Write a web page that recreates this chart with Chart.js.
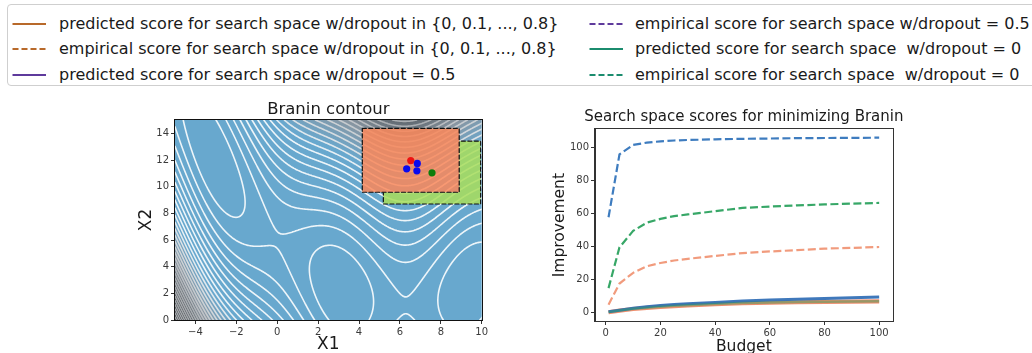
<!DOCTYPE html>
<html>
<head>
<meta charset="utf-8">
<script src="https://cdn.jsdelivr.net/npm/chart.js@4.4.1/dist/chart.umd.min.js"></script>
<style>
  html, body { margin: 0; padding: 0; background: #ffffff; width: 1032px; height: 353px; overflow: hidden;
               font-family: "DejaVu Sans", sans-serif; }
  #legend { position: absolute; left: 7px; top: 4px; width: 1070px; height: 82px;
            border: 1px solid #cfcfcf; border-radius: 4px; box-sizing: border-box; }
  .item { position: absolute; height: 20px; font-size: 16px; line-height: 20px; color: #1a1a1a; white-space: pre; }
  .item svg { position: absolute; left: 0; top: 0; }
  .item span { position: absolute; top: 0; }
  #contourBox { position: absolute; left: 130px; top: 95px; width: 370px; height: 270px; }
  #scoreBox { position: absolute; left: 530px; top: 95px; width: 400px; height: 270px; }
</style>
</head>
<body>
<div id="legend"></div>
<div id="contourBox"><canvas id="contour" width="370" height="270"></canvas></div>
<div id="scoreBox"><canvas id="scores" width="400" height="270"></canvas></div>
<script>
// ---------- legend entries ----------
const legendLabels = [
  'predicted score for search space w/dropout in {0, 0.1, ..., 0.8}',
  'empirical score for search space w/dropout in {0, 0.1, ..., 0.8}',
  'predicted score for search space w/dropout = 0.5',
  'empirical score for search space w/dropout = 0.5',
  'predicted score for search space  w/dropout = 0',
  'empirical score for search space  w/dropout = 0'
];
const legendColors = ['#b8692a', '#b8692a', '#5e3a9c', '#5e3a9c', '#1b8c6e', '#1b8c6e'];
const legendDashed = [false, true, false, true, false, true];

// ---------- contour panel ----------
const x1Ticks = [-4, -2, 0, 2, 4, 6, 8, 10];
const x2Ticks = [0, 2, 4, 6, 8, 10, 12, 14];
const contourLevels = [10, 20, 30, 40, 50, 60, 70, 80, 90, 100, 110, 120, 130, 140, 150,
                       160, 170, 180, 190, 200, 210, 220, 230, 240, 250, 260, 270, 280, 290, 300];
// search-space boxes: [x1 from, x1 to], [x2 from, x2 to]
const wideBoxX1 = [4.16, 8.90];
const wideBoxX2 = [9.58, 14.37];
const narrowBoxX1 = [5.19, 9.95];
const narrowBoxX2 = [8.70, 13.42];
// proposed optima
const redPoint = [{x: 6.53, y: 11.96}];
const bluePoints = [{x: 6.85, y: 11.74}, {x: 6.33, y: 11.34}, {x: 6.83, y: 11.19}];
const greenPoint = [{x: 7.57, y: 11.04}];

// ---------- score panel ----------
const budgets = [1, 5, 10, 15, 20, 25, 30, 40, 50, 60, 70, 80, 90, 100];
const empiricalBlue   = [57.8, 96.0, 101.8, 103.2, 104.0, 104.5, 104.8, 105.2, 105.5, 105.7, 105.9, 106.0, 106.1, 106.2];
const empiricalGreen  = [14.7, 39.5, 49.5, 54.5, 56.8, 58.5, 59.5, 61.5, 63.5, 64.3, 65.0, 65.6, 66.1, 66.5];
const empiricalSalmon = [4.6, 17.5, 24.0, 28.0, 30.0, 31.5, 32.5, 34.3, 36.0, 37.0, 37.8, 38.7, 39.2, 39.7];
const predictedGreen  = [0.1, 1.1, 2.2, 2.8, 3.4, 3.9, 4.3, 5.0, 5.6, 5.9, 6.2, 6.4, 6.6, 6.7];
const predictedBlue   = [0.3, 1.3, 2.5, 3.4, 4.2, 4.7, 5.2, 6.0, 6.8, 7.4, 7.9, 8.4, 8.8, 9.3];
const predictedSalmon = [0.0, 1.0, 2.0, 2.7, 3.3, 3.8, 4.2, 4.9, 5.5, 5.8, 6.1, 6.3, 6.5, 6.6];
const budgetTicks = [0, 20, 40, 60, 80, 100];
const improvementTicks = [0, 20, 40, 60, 80, 100];

// ---------- legend ----------
(function buildLegend() {
  const box = document.getElementById('legend');
  const rowY = [9, 34, 60];
  legendLabels.forEach((label, i) => {
    const col = Math.floor(i / 3), row = i % 3;
    const left = col === 0 ? 4 : 581;
    const el = document.createElement('div');
    el.className = 'item';
    el.style.left = left + 'px';
    el.style.top = rowY[row] + 'px';
    el.style.width = '520px';
    const dash = legendDashed[i] ? ' stroke-dasharray="6 3"' : '';
    el.innerHTML = '<svg width="36" height="20"><line x1="0.5" y1="10" x2="34" y2="10" stroke="' +
      legendColors[i] + '" stroke-width="2"' + dash + '/></svg>';
    const span = document.createElement('span');
    span.style.left = (col === 0 ? 47 : 46) + 'px';
    span.textContent = label;
    el.appendChild(span);
    box.appendChild(el);
  });
})();

// ---------- helpers ----------
const FONT = '"DejaVu Sans", sans-serif';
const minus = v => (v < 0 ? '\u2212' + Math.abs(v) : String(v));

function branin(x1, x2) {
  const b = 5.1 / (4 * Math.PI * Math.PI), c = 5 / Math.PI, t = 1 / (8 * Math.PI);
  const u = x2 - b * x1 * x1 + c * x1 - 6;
  return u * u + 10 * (1 - t) * Math.cos(x1) + 10;
}

const fillStops = [
  [0, [104, 168, 206]], [105, [104, 168, 206]], [165, [136, 150, 162]],
  [230, [80, 86, 92]], [300, [14, 16, 20]]
];
function fillColor(v) {
  if (v <= fillStops[0][0]) return fillStops[0][1];
  for (let k = 1; k < fillStops.length; k++) {
    if (v <= fillStops[k][0]) {
      const [a0, c0] = fillStops[k - 1], [a1, c1] = fillStops[k];
      const f = (v - a0) / (a1 - a0);
      return [c0[0] + (c1[0] - c0[0]) * f, c0[1] + (c1[1] - c0[1]) * f, c0[2] + (c1[2] - c0[2]) * f];
    }
  }
  return fillStops[fillStops.length - 1][1];
}
function lineColor(level) {
  const f = Math.max(0, Math.min(1, (level - 90) / 110));
  const r = Math.round(255 - 75 * f), g = Math.round(255 - 72 * f), b = Math.round(255 - 68 * f);
  return 'rgba(' + r + ',' + g + ',' + b + ',0.88)';
}

// Branin surface, contour lines and search-space boxes, drawn through the chart scales
const braninSurface = {
  id: 'braninSurface',
  beforeDatasetsDraw(chart) {
    const {ctx, chartArea: a, scales: {x, y}} = chart;
    const L = Math.round(a.left), T = Math.round(a.top);
    const W = Math.round(a.right) - L, H = Math.round(a.bottom) - T;

    // filled surface
    const off = document.createElement('canvas');
    off.width = W; off.height = H;
    const octx = off.getContext('2d');
    const img = octx.createImageData(W, H);
    for (let j = 0; j < H; j++) {
      const v2 = y.getValueForPixel(T + j + 0.5);
      for (let i = 0; i < W; i++) {
        const c = fillColor(branin(x.getValueForPixel(L + i + 0.5), v2));
        const p = (j * W + i) * 4;
        img.data[p] = c[0]; img.data[p + 1] = c[1]; img.data[p + 2] = c[2]; img.data[p + 3] = 255;
      }
    }
    octx.putImageData(img, 0, 0);
    ctx.save();
    ctx.beginPath();
    ctx.rect(a.left, a.top, a.right - a.left, a.bottom - a.top);
    ctx.clip();
    ctx.drawImage(off, L, T);

    // contour lines (marching squares on a one-pixel grid)
    const nx = W + 1, ny = H + 1;
    const grid = new Float64Array(nx * ny);
    for (let j = 0; j < ny; j++) {
      const v2 = y.getValueForPixel(T + j);
      for (let i = 0; i < nx; i++) grid[j * nx + i] = branin(x.getValueForPixel(L + i), v2);
    }
    ctx.lineWidth = 1.6;
    ctx.lineCap = 'round';
    contourLevels.forEach(level => {
      ctx.beginPath();
      for (let j = 0; j < H; j++) {
        for (let i = 0; i < W; i++) {
          const v0 = grid[j * nx + i], v1 = grid[j * nx + i + 1];
          const v2 = grid[(j + 1) * nx + i + 1], v3 = grid[(j + 1) * nx + i];
          const above = (v0 > level) + (v1 > level) + (v2 > level) + (v3 > level);
          if (above === 0 || above === 4) continue;
          const pts = [];
          if ((v0 > level) !== (v1 > level)) pts.push([i + (level - v0) / (v1 - v0), j]);
          if ((v1 > level) !== (v2 > level)) pts.push([i + 1, j + (level - v1) / (v2 - v1)]);
          if ((v2 > level) !== (v3 > level)) pts.push([i + 1 - (level - v2) / (v3 - v2), j + 1]);
          if ((v3 > level) !== (v0 > level)) pts.push([i, j + 1 - (level - v3) / (v0 - v3)]);
          if (pts.length === 2) {
            ctx.moveTo(L + pts[0][0], T + pts[0][1]); ctx.lineTo(L + pts[1][0], T + pts[1][1]);
          } else if (pts.length === 4) {
            const centre = (v0 + v1 + v2 + v3) / 4;
            if ((centre > level) === (v0 > level)) {
              ctx.moveTo(L + pts[0][0], T + pts[0][1]); ctx.lineTo(L + pts[1][0], T + pts[1][1]);
              ctx.moveTo(L + pts[2][0], T + pts[2][1]); ctx.lineTo(L + pts[3][0], T + pts[3][1]);
            } else {
              ctx.moveTo(L + pts[0][0], T + pts[0][1]); ctx.lineTo(L + pts[3][0], T + pts[3][1]);
              ctx.moveTo(L + pts[1][0], T + pts[1][1]); ctx.lineTo(L + pts[2][0], T + pts[2][1]);
            }
          }
        }
      }
      ctx.strokeStyle = lineColor(level);
      ctx.stroke();
    });

    // search-space boxes: the wide box sits on top of the narrow one
    const rectOf = (bx, by) => {
      const px0 = x.getPixelForValue(bx[0]), px1 = x.getPixelForValue(bx[1]);
      const py0 = y.getPixelForValue(by[1]), py1 = y.getPixelForValue(by[0]);
      return [px0, py0, px1 - px0, py1 - py0];
    };
    const wide = rectOf(wideBoxX1, wideBoxX2);
    const narrow = rectOf(narrowBoxX1, narrowBoxX2);
    const drawBox = (r, fill) => {
      ctx.fillStyle = fill;
      ctx.fillRect(r[0], r[1], r[2], r[3]);
      ctx.setLineDash([4, 2.5]);
      ctx.lineWidth = 1.2;
      ctx.strokeStyle = '#111111';
      ctx.strokeRect(r[0], r[1], r[2], r[3]);
      ctx.setLineDash([]);
    };
    ctx.save();
    ctx.beginPath();
    ctx.rect(a.left - 2, a.top - 2, a.right - a.left + 4, a.bottom - a.top + 4);
    ctx.rect(wide[0], wide[1], wide[2], wide[3]);
    ctx.clip('evenodd');
    drawBox(narrow, 'rgba(168,221,92,0.86)');
    ctx.restore();
    drawBox(wide, 'rgba(252,135,88,0.84)');
    ctx.restore();
  }
};

// plot frame and centred panel title
const frameAndTitle = {
  id: 'frameAndTitle',
  afterDraw(chart, args, opts) {
    const {ctx, chartArea: a} = chart;
    ctx.save();
    ctx.strokeStyle = opts.frameColor;
    ctx.lineWidth = 1;
    ctx.strokeRect(Math.round(a.left) - 0.5, Math.round(a.top) - 0.5,
                   Math.round(a.right - a.left) + 1, Math.round(a.bottom - a.top) + 1);
    ctx.fillStyle = '#1a1a1a';
    ctx.font = opts.size + 'px ' + FONT;
    ctx.textAlign = 'center';
    ctx.textBaseline = 'middle';
    ctx.fillText(opts.text, (a.left + a.right) / 2, opts.y);
    ctx.restore();
  }
};

const fixedTicks = values => scale => { scale.ticks = values.map(v => ({value: v})); };
const axisBase = (tickValues, title, titleSize, titlePad, size) => ({
  type: 'linear',
  afterBuildTicks: fixedTicks(tickValues),
  grid: {drawOnChartArea: false, drawTicks: true, tickLength: 4, color: '#333333'},
  border: {display: true, color: '#333333'},
  ticks: {font: {family: FONT, size: 10}, color: '#3a3a3a', padding: 2, maxRotation: 0,
          autoSkip: false, callback: v => minus(v)},
  title: {display: true, text: title, font: {family: FONT, size: titleSize}, color: '#1a1a1a', padding: titlePad},
  afterFit: s => { if (s.isHorizontal()) s.height = size; else s.width = size; }
});

Chart.defaults.font.family = FONT;

new Chart(document.getElementById('contour'), {
  type: 'scatter',
  data: {
    datasets: [
      {data: redPoint, backgroundColor: '#ee1111', pointRadius: 3.6, borderWidth: 0, pointHoverRadius: 3.6},
      {data: bluePoints, backgroundColor: '#0a0aee', pointRadius: 3.6, borderWidth: 0, pointHoverRadius: 3.6},
      {data: greenPoint, backgroundColor: '#0b7d0b', pointRadius: 3.6, borderWidth: 0, pointHoverRadius: 3.6}
    ]
  },
  options: {
    responsive: false, animation: false, devicePixelRatio: 1,
    layout: {padding: {top: 25, right: 18.3, left: 0, bottom: 0}},
    plugins: {legend: {display: false}, tooltip: {enabled: false},
              frameAndTitle: {text: 'Branin contour', y: 14.5, size: 16.5, frameColor: '#111111'}},
    scales: {
      x: Object.assign(axisBase(x1Ticks, 'X1', 17, {top: 0, bottom: 10.5}, 45), {min: -5, max: 10}),
      y: Object.assign(axisBase(x2Ticks, 'X2', 17, {top: 6, bottom: 0}, 45), {min: 0, max: 15})
    }
  },
  plugins: [braninSurface, frameAndTitle]
});

const lineSet = (values, color, dashed, width) => ({
  data: budgets.map((b, i) => ({x: b, y: values[i]})),
  borderColor: color, borderWidth: width, borderDash: dashed ? [8, 3.5] : [],
  pointRadius: 0, fill: false, tension: 0, borderCapStyle: 'butt'
});

new Chart(document.getElementById('scores'), {
  type: 'line',
  data: {
    datasets: [
      lineSet(predictedGreen, 'rgba(44,162,95,0.45)', false, 2.5),
      lineSet(predictedBlue, 'rgba(47,109,181,0.92)', false, 3),
      lineSet(predictedSalmon, 'rgba(238,136,102,0.95)', false, 4.2),
      lineSet(empiricalSalmon, 'rgba(240,150,118,0.95)', true, 2.2),
      lineSet(empiricalGreen, 'rgba(44,162,95,0.95)', true, 2.2),
      lineSet(empiricalBlue, 'rgba(52,117,188,0.95)', true, 2.2)
    ]
  },
  options: {
    responsive: false, animation: false, devicePixelRatio: 1,
    layout: {padding: {top: 34.3, right: 37.3, left: 0, bottom: 0}},
    plugins: {legend: {display: false}, tooltip: {enabled: false},
              frameAndTitle: {text: 'Search space scores for minimizing Branin', y: 22.5, size: 15, frameColor: '#333333'}},
    scales: {
      x: Object.assign(axisBase(budgetTicks, 'Budget', 15.5, {top: 0, bottom: 8.5}, 44), {min: -3.95, max: 104.95}),
      y: Object.assign(axisBase(improvementTicks, 'Improvement', 15.5, {top: 20.5, bottom: 0}, 65), {min: -5.3, max: 111.3})
    }
  },
  plugins: [frameAndTitle]
});
</script>
</body>
</html>
